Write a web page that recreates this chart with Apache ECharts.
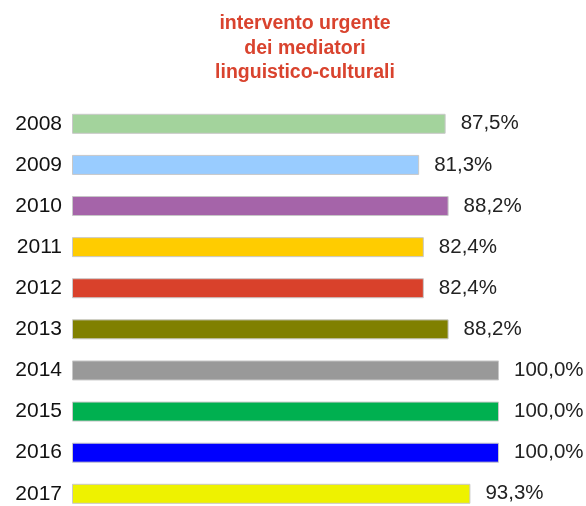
<!DOCTYPE html>
<html><head><meta charset="utf-8">
<script src="https://cdn.jsdelivr.net/npm/echarts@6/dist/echarts.min.js"></script>
<style>html,body{margin:0;padding:0;background:#fff}#c{width:586px;height:506px}</style>
</head><body><div id="c"></div>
<script>
const titleLines = ['intervento urgente', 'dei mediatori', 'linguistico-culturali'];
const categories = ['2008','2009','2010','2011','2012','2013','2014','2015','2016','2017'];
const values = [87.5, 81.3, 88.2, 82.4, 82.4, 88.2, 100.0, 100.0, 100.0, 93.3];
const colors = ['#a3d39c','#99ccff','#a564a9','#ffcc00','#d9412b','#808000','#999999','#00b050','#0000ff','#eef200'];

const chart = echarts.init(document.getElementById('c'), null, {renderer:'canvas'});
chart.setOption({
  animation:false,
  title:{
    text: titleLines.join('\n'),
    left: 300, top: 6.5, textAlign:'center',
    textStyle:{color:'#d9432e', fontFamily:'Liberation Sans, Arial', fontSize:19.5, fontWeight:'bold', lineHeight:24.5}
  },
  grid:{left:72, top:123.8, width:427, height:370},
  xAxis:{type:'value', min:0, max:100, show:false},
  yAxis:{type:'category', data:categories, inverse:true, boundaryGap:false,
    axisLine:{show:false}, axisTick:{show:false}, splitLine:{show:false},
    axisLabel:{margin:10, color:'#111', fontFamily:'Liberation Sans, Arial', fontSize:21}},
  series:[{
    type:'bar', barWidth:20,
    data: values.map((v,i)=>({value:v, itemStyle:{color:colors[i]}})),
    itemStyle:{borderColor:'#c8c8c8', borderWidth:1},
    label:{show:true, position:'right', distance:15, color:'#222', fontFamily:'Liberation Sans, Arial', fontSize:20.5,
      formatter: p => p.value.toFixed(1).replace('.', ',') + '%'}
  }]
});
</script></body></html>
